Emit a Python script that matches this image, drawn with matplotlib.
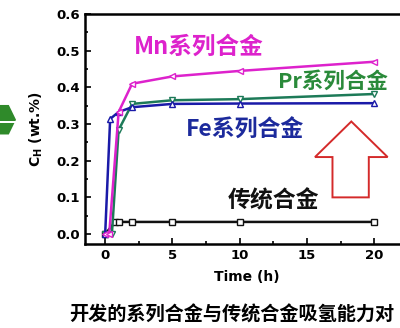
import numpy as np
import matplotlib
matplotlib.use("Agg")
import matplotlib.pyplot as plt
from matplotlib.patches import Polygon
from matplotlib.ticker import MultipleLocator

plt.rcParams['font.family'] = ['DejaVu Sans', 'Noto Sans CJK SC']

# hydrogen uptake vs time for each alloy series
t_mn = [0, 0.3, 1, 2, 5, 10, 20]
c_mn = [0.0, 0.0, 0.333, 0.41, 0.43, 0.445, 0.47]
t_pr = [0, 0.5, 1, 2, 5, 10, 20]
c_pr = [0.0, 0.0, 0.284, 0.355, 0.365, 0.368, 0.382]
t_fe = [0, 0.37, 1, 2, 5, 10, 20]
c_fe = [0.0, 0.314, 0.333, 0.346, 0.355, 0.356, 0.357]
t_ref = [0, 0.75, 1, 2, 5, 10, 20]
c_ref = [0.0, 0.033, 0.033, 0.033, 0.033, 0.033, 0.033]

xticks = [0, 5, 10, 15, 20]
yticks = [0.0, 0.1, 0.2, 0.3, 0.4, 0.5, 0.6]

fig = plt.figure(figsize=(4.0, 3.28), dpi=100)
ax = fig.add_axes([0.2125, 0.256, 0.807, 0.701])

series = [
    (t_ref, c_ref, '#111111', 's'),
    (t_pr, c_pr, '#1d7a58', 'v'),
    (t_fe, c_fe, '#1a1aa8', '^'),
    (t_mn, c_mn, '#dd22cc', '<'),
]
for t, c, col, mk in series:
    ax.plot(t, c, color=col, lw=1.8, marker=mk, ms=4, mfc='white',
            mec=col, mew=1.0, zorder=3)

ax.set_xlim(-1.5, 22.5)
ax.set_ylim(-0.0273, 0.6)
ax.set_xticks(xticks)
ax.set_yticks(yticks)
ax.xaxis.set_minor_locator(MultipleLocator(2.5))
ax.yaxis.set_minor_locator(MultipleLocator(0.05))
ax.tick_params(which='both', direction='in', width=1.2, labelsize=9.5)
ax.tick_params(which='major', length=4)
ax.tick_params(which='minor', length=2)
for lab in ax.get_xticklabels() + ax.get_yticklabels():
    lab.set_fontweight('bold')
for s in ax.spines.values():
    s.set_linewidth(1.8)

ax.set_xlabel('Time (h)', fontsize=10, fontweight='bold', labelpad=6)
ax.set_ylabel('C$_\\mathbf{H}$ (wt.%)', fontsize=10, fontweight='bold', labelpad=8)

cjk = ['Noto Sans CJK SC', 'DejaVu Sans']
ax.text(6.95, 0.51, 'Mn系列合金', color='#dd22cc', fontsize=17,
        fontweight='bold', family=cjk, ha='center', va='center')
ax.text(16.9, 0.417, 'Pr系列合金', color='#2a8a3a', fontsize=15.5,
        fontweight='bold', family=cjk, ha='center', va='center')
ax.text(10.4, 0.284, 'Fe系列合金', color='#1c2a9c', fontsize=16.5,
        fontweight='bold', family=cjk, ha='center', va='center')
ax.text(12.5, 0.09, '传统合金', color='#111111', fontsize=16.5,
        fontweight='bold', family=cjk, ha='center', va='center')

# big outlined red arrow
ax.add_patch(Polygon([(18.3, 0.307), (15.6, 0.21), (16.9, 0.21), (16.9, 0.1),
                      (19.6, 0.1), (19.6, 0.21), (21.0, 0.21)],
                     closed=True, fill=False, ec='#d42a2a', lw=1.4, zorder=4))

# green chevron at the left edge
fig.patches.append(Polygon([(0.0, 0.68), (0.022, 0.68), (0.04, 0.635),
                            (0.022, 0.59), (0.0, 0.59)], closed=True,
                           transform=fig.transFigure, fc='#2f8a2a', ec='none'))
fig.patches.append(Polygon([(0.0, 0.632), (0.04, 0.632), (0.04, 0.624),
                            (0.0, 0.624)], closed=True,
                           transform=fig.transFigure, fc='white', ec='none'))

fig.text(0.172, 0.04, '开发的系列合金与传统合金吸氢能力对', family=cjk,
         fontsize=13.8, fontweight='bold', ha='left', va='center')

fig.savefig('out.png', dpi=100)
